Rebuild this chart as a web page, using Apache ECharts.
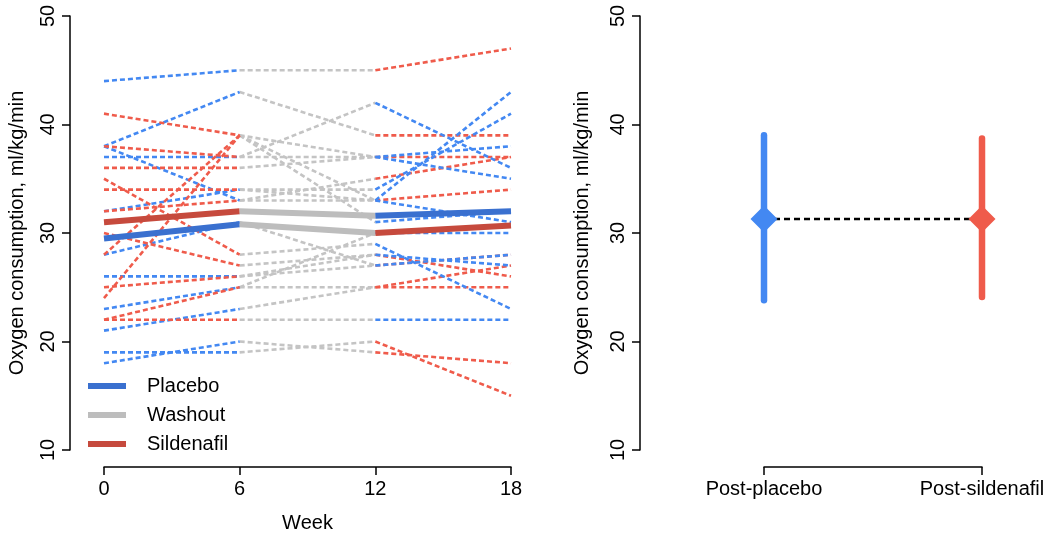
<!DOCTYPE html>
<html>
<head>
<meta charset="utf-8">
<script src="https://cdn.jsdelivr.net/npm/echarts@6/dist/echarts.min.js"></script>
<style>
html,body{margin:0;padding:0;background:#fff;}
#c{width:1050px;height:538px;}
</style>
</head>
<body>
<div id="c"></div>
<script>
// ---- data ----
var weeks = [0, 6, 12, 18];
var weekTicks = ['0', '6', '12', '18'];

// Subjects randomised to placebo first (placebo -> washout -> sildenafil)
var pfW0  = [44, 38, 38, 37, 32, 28, 26, 23, 21, 19, 18];
var pfW6  = [45, 43, 33, 37, 34, 31, 26, 25, 23, 19, 20];
var pfW12 = [45, 39, 35, 37, 33, 27, 28, 25, 25, 20, 19];
var pfW18 = [47, 39, 37, 37, 34, 28, 26, 25, 27, 15, 18];

// Subjects randomised to sildenafil first (sildenafil -> washout -> placebo)
var sfW0  = [41, 38, 36, 35, 34, 32, 30, 28, 25, 24, 22, 22];
var sfW6  = [39, 37, 36, 28, 34, 33, 27, 39, 26, 39, 25, 22];
var sfW12 = [37, 42, 37, 29, 34, 33, 28, 31, 27, 33, 30, 22];
var sfW18 = [35, 36, 38, 23, 41, 43, 27, 32, 28, 31, 30, 22];

// Group means (bold lines)
var pfMean = [29.5, 30.8, 30.0, 30.7];
var sfMean = [31.0, 32.0, 31.6, 32.0];

// Right panel
var groups = ['Post-placebo', 'Post-sildenafil'];
var grpMean = [31.3, 31.3];
var grpLow  = [23.8, 24.1];
var grpHigh = [39.0, 38.7];

// ---- styles ----
var BLUE = '#4388f2', RED = '#ef5b4b', GRAY = '#c4c4c4';
var BBLUE = '#3a70cf', BRED = '#c64a3d', BGRAY = '#bdbdbd';
var FONT = '"Liberation Sans", Arial, Helvetica, sans-serif';

var series = [];
function seg(x1, y1, x2, y2, color, name, width, dashed, z) {
  series.push({
    type: 'line', name: name, xAxisIndex: 0, yAxisIndex: 0,
    data: [[x1, y1], [x2, y2]],
    showSymbol: false, symbol: 'none', clip: false, silent: true,
    lineStyle: { color: color, width: width, type: dashed ? [5, 3] : 'solid' },
    itemStyle: { color: color },
    z: z, animation: false
  });
}
var pfCols = [pfW0, pfW6, pfW12, pfW18];
var sfCols = [sfW0, sfW6, sfW12, sfW18];
var pfColors = [BLUE, GRAY, RED];
var sfColors = [RED, GRAY, BLUE];
[1, 0, 2].forEach(function (k) {
  for (var i = 0; i < pfW0.length; i++)
    seg(weeks[k], pfCols[k][i], weeks[k + 1], pfCols[k + 1][i], pfColors[k], 'pf' + i, 2.6, true, k === 1 ? 1 : 2);
  for (var j = 0; j < sfW0.length; j++)
    seg(weeks[k], sfCols[k][j], weeks[k + 1], sfCols[k + 1][j], sfColors[k], 'sf' + j, 2.6, true, k === 1 ? 1 : 2);
});
var pfBold = [BBLUE, BGRAY, BRED], sfBold = [BRED, BGRAY, BBLUE];
var boldNames = {};
boldNames[BBLUE] = 'Placebo'; boldNames[BGRAY] = 'Washout'; boldNames[BRED] = 'Sildenafil';
for (var k2 = 0; k2 < 3; k2++) {
  seg(weeks[k2], pfMean[k2], weeks[k2 + 1], pfMean[k2 + 1], pfBold[k2], boldNames[pfBold[k2]], 6, false, 5);
  seg(weeks[k2], sfMean[k2], weeks[k2 + 1], sfMean[k2 + 1], sfBold[k2], boldNames[sfBold[k2]], 6, false, 5);
}

// right panel
var errData = groups.map(function (g, i) { return [i, grpLow[i], grpHigh[i]]; });
series.push({
  type: 'custom', xAxisIndex: 1, yAxisIndex: 1, silent: true, z: 3, animation: false,
  data: errData,
  encode: { x: 0, y: [1, 2] },
  renderItem: function (params, api) {
    var p1 = api.coord([api.value(0), api.value(1)]);
    var p2 = api.coord([api.value(0), api.value(2)]);
    return {
      type: 'line',
      shape: { x1: p1[0], y1: p1[1], x2: p2[0], y2: p2[1] },
      style: { stroke: api.value(0) === 0 ? BLUE : RED, lineWidth: 6.5, lineCap: 'round' }
    };
  }
});
series.push({
  type: 'line', xAxisIndex: 1, yAxisIndex: 1, silent: true, z: 4, animation: false,
  data: grpMean, showSymbol: false, symbol: 'none',
  lineStyle: { color: '#000', width: 2.5, type: [6, 4] }
});
series.push({
  type: 'scatter', xAxisIndex: 1, yAxisIndex: 1, silent: true, z: 5, animation: false,
  symbol: 'diamond', symbolSize: [27, 27],
  data: grpMean.map(function (v, i) { return { value: [i, v], itemStyle: { color: i === 0 ? BLUE : RED, opacity: 1 } }; })
});

var axisLine = { show: true, onZero: false, lineStyle: { color: '#000', width: 1.5 } };
var axisTick = { show: true, length: 8, lineStyle: { color: '#000', width: 1.5 } };
var labelStyle = { color: '#000', fontSize: 20, fontFamily: FONT };
var yNameStyle = { color: '#000', fontSize: 20, fontFamily: FONT };

var option = {
  animation: false,
  backgroundColor: '#fff',
  textStyle: { fontFamily: FONT },
  grid: [
    { left: 104, right: 539, top: 16, bottom: 88 },
    { left: 764, right: 68, top: 16, bottom: 88 }
  ],
  legend: {
    left: 88, top: 376, orient: 'vertical', padding: 0,
    itemWidth: 38, itemHeight: 6, itemGap: 9,
    selectedMode: false,
    textStyle: { color: '#000', fontSize: 20, fontFamily: FONT, padding: [0, 0, 0, 16] },
    data: [
      { name: 'Placebo', icon: 'rect', itemStyle: { color: BBLUE } },
      { name: 'Washout', icon: 'rect', itemStyle: { color: BGRAY } },
      { name: 'Sildenafil', icon: 'rect', itemStyle: { color: BRED } }
    ]
  },
  xAxis: [
    {
      type: 'value', gridIndex: 0, min: 0, max: 18, interval: 6, offset: 17,
      axisLine: axisLine, axisTick: axisTick, splitLine: { show: false },
      axisLabel: Object.assign({ margin: 12, formatter: function (v) { return weekTicks[weeks.indexOf(v)]; } }, labelStyle),
      name: 'Week', nameLocation: 'middle', nameGap: 46, nameTextStyle: labelStyle
    },
    {
      type: 'category', gridIndex: 1, data: groups, boundaryGap: false, offset: 17,
      axisLine: axisLine, axisTick: Object.assign({ alignWithLabel: true }, axisTick), splitLine: { show: false },
      axisLabel: Object.assign({ margin: 12, interval: 0 }, labelStyle)
    }
  ],
  yAxis: [
    {
      type: 'value', gridIndex: 0, min: 10, max: 50, interval: 10, offset: 34,
      axisLine: axisLine, axisTick: axisTick, splitLine: { show: false },
      axisLabel: Object.assign({ rotate: 90, margin: 12 }, labelStyle),
      name: 'Oxygen consumption, ml/kg/min', nameLocation: 'middle', nameGap: 43, nameTextStyle: yNameStyle
    },
    {
      type: 'value', gridIndex: 1, min: 10, max: 50, interval: 10, offset: 124,
      axisLine: axisLine, axisTick: axisTick, splitLine: { show: false },
      axisLabel: Object.assign({ rotate: 90, margin: 12 }, labelStyle),
      name: 'Oxygen consumption, ml/kg/min', nameLocation: 'middle', nameGap: 48, nameTextStyle: yNameStyle
    }
  ],
  series: series
};
var chart = echarts.init(document.getElementById('c'), null, { renderer: 'canvas' });
chart.setOption(option);
</script>
</body>
</html>
